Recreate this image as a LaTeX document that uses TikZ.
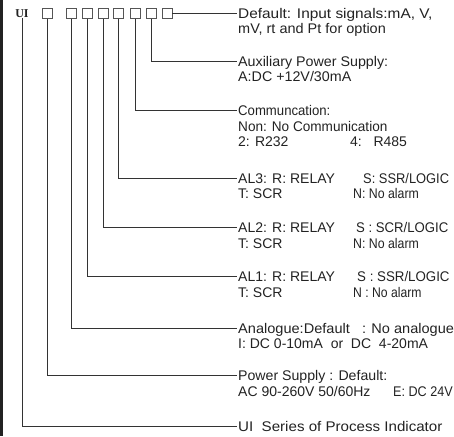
\documentclass[tikz,border=0pt]{standalone}
\usepackage{graphicx}
\usepackage{fontspec}
\setmainfont{Liberation Sans}
\newfontfamily\uiserif{Liberation Serif}
\newcommand\sx[2]{\scalebox{#1}[1]{#2}}
\definecolor{ink}{HTML}{222222}
\definecolor{wire}{HTML}{333333}
\definecolor{boxc}{HTML}{555555}
\begin{document}
\begin{tikzpicture}[x=1pt,y=-1pt,
  wire/.style={draw=wire,line width=0.9pt},
  codebox/.style={draw=boxc,line width=0.8pt,minimum width=10pt,minimum height=10pt,inner sep=0pt},
  lbl/.style={anchor=base west,inner sep=0pt,text=ink,font=\fontsize{14}{15.7}\selectfont}]
\useasboundingbox (0,0) rectangle (454,436);
\fill[ink] (0,0) rectangle (3,436);
% code boxes
\node[inner sep=0pt,text=ink,font=\uiserif\bfseries\fontsize{12}{12}\selectfont] (ui) at (22,13.8) {UI};
\node[codebox] (b1) at (47,13.3) {};
\node[codebox] (b2) at (71.5,13.3) {};
\node[codebox] (b3) at (87,13.3) {};
\node[codebox] (b4) at (103,13.3) {};
\node[codebox] (b5) at (118.5,13.3) {};
\node[codebox] (b6) at (135,13.3) {};
\node[codebox] (b7) at (151,13.3) {};
\node[codebox] (b8) at (167,13.3) {};
% line ends
\coordinate (e8) at (237,13.3);
\coordinate (e7) at (237,61);
\coordinate (e6) at (237,110.5);
\coordinate (e5) at (237,178);
\coordinate (e4) at (237,227.5);
\coordinate (e3) at (237,276.5);
\coordinate (e2) at (237,328);
\coordinate (e1) at (237,375.7);
\coordinate (e0) at (237,426);
% connectors
\draw[wire] (b8.east) -- (e8);
\draw[wire] (b7.south) |- (e7);
\draw[wire] (b6.south) |- (e6);
\draw[wire] (b5.south) |- (e5);
\draw[wire] (b4.south) |- (e4);
\draw[wire] (b3.south) |- (e3);
\draw[wire] (b2.south) |- (e2);
\draw[wire] (b1.south) |- (e1);
\draw[wire] (ui.south) |- (e0);
% labels
\node[lbl] (t8) at ([xshift=1pt,yshift=-5pt]e8) {\begin{tabular}[t]{@{}l@{}}\sx{1.1}{Default: Input signals:mA, V,}\\ \sx{1.035}{mV, rt and Pt for option}\end{tabular}};
\node[lbl] (t7) at ([xshift=1pt,yshift=-5pt]e7) {\begin{tabular}[t]{@{}l@{}}\sx{1.02}{Auxiliary Power Supply:}\\ \sx{1.02}{A:DC +12V/30mA}\end{tabular}};
\node[lbl] (t6) at ([xshift=1pt,yshift=-5pt]e6) {\begin{tabular}[t]{@{}l@{}}\sx{0.94}{Communcation:}\\ \sx{0.97}{Non: No Communication}\\ \makebox[112pt][l]{2: R232}4:\ \ \ R485\end{tabular}};
\node[lbl] (t5) at ([xshift=1pt,yshift=-5pt]e5) {\begin{tabular}[t]{@{}l@{}}\makebox[125pt][l]{AL3: R: RELAY}\sx{0.92}{S: SSR/LOGIC}\\ \makebox[115pt][l]{T: SCR}\sx{0.88}{N: No alarm}\end{tabular}};
\node[lbl] (t4) at ([xshift=1pt,yshift=-5pt]e4) {\begin{tabular}[t]{@{}l@{}}\makebox[118pt][l]{AL2: R: RELAY}\sx{0.94}{S : SCR/LOGIC}\\ \makebox[115pt][l]{T: SCR}\sx{0.88}{N: No alarm}\end{tabular}};
\node[lbl] (t3) at ([xshift=1pt,yshift=-5pt]e3) {\begin{tabular}[t]{@{}l@{}}\makebox[119pt][l]{AL1: R: RELAY}\sx{0.95}{S : SSR/LOGIC}\\ \makebox[115pt][l]{T: SCR}\sx{0.87}{N : No alarm}\end{tabular}};
\node[lbl] (t2) at ([xshift=1pt,yshift=-5pt]e2) {\begin{tabular}[t]{@{}l@{}}\sx{1.04}{Analogue:Default\ \ \ : No analogue}\\ I: DC 0-10mA\ \ or\ \ DC\ \ 4-20mA\end{tabular}};
\node[lbl] (t1) at ([xshift=1pt,yshift=-5pt]e1) {\begin{tabular}[t]{@{}l@{}}\sx{1.01}{Power Supply : Default:}\\ \makebox[155pt][l]{AC 90-260V 50/60Hz}\sx{0.9}{E: DC 24V}\end{tabular}};
\node[lbl] (t0) at ([xshift=1pt,yshift=-5pt]e0) {\sx{1.08}{UI\ \ Series of Process Indicator}};
\end{tikzpicture}
\end{document}
